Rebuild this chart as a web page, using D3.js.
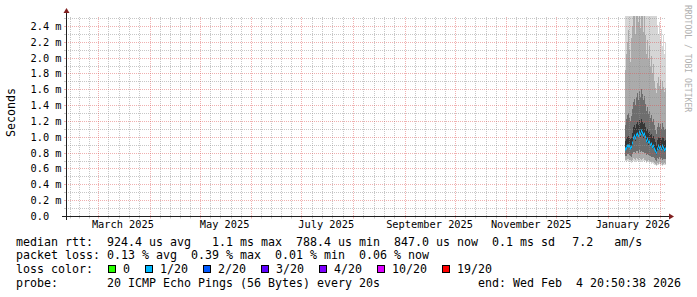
<!DOCTYPE html>
<html>
<head>
<meta charset="utf-8">
<script src="https://cdn.jsdelivr.net/npm/d3@7"></script>
<style>
html, body { margin: 0; padding: 0; background: #fff; }
svg { display: block; }
text { font-family: "DejaVu Sans Mono", monospace; fill: #000; white-space: pre; }
</style>
</head>
<body>
<svg id="chart" width="697" height="297"></svg>
<script>
// smokeping style graph, last 360 days

var endTime = new Date(Date.UTC(2026, 1, 4, 20, 50, 38));
var spanDays = 360;
var stepHours = 14.4;      // one consolidated row per pixel
var yTop = 2.526;          // ms at top of plot

// ping times in ms, one value per column (oldest first)
var pingMin = [0.69,0.68,0.70,0.69,0.68,0.69,0.67,0.68,0.70,0.69, 0.68,0.70,0.69,0.68,0.70,0.69,0.68,0.69,0.70,0.68,
  0.69,0.67,0.68,0.69,0.67,0.68,0.66,0.67,0.66,0.65, 0.64,0.63,0.65,0.64,0.66,0.64,0.65,0.63,0.64,0.65,0.64];
var ping3 = [0.71,0.71,0.72,0.72,0.71,0.71,0.70,0.71,0.73,0.72, 0.71,0.73,0.72,0.71,0.73,0.72,0.71,0.72,0.73,0.71,
  0.71,0.70,0.70,0.71,0.69,0.70,0.68,0.69,0.68,0.67, 0.66,0.65,0.67,0.66,0.68,0.66,0.67,0.65,0.66,0.67,0.66];
var ping6 = [0.76,0.76,0.78,0.78,0.77,0.76,0.75,0.78,0.81,0.81, 0.79,0.82,0.82,0.80,0.83,0.81,0.82,0.81,0.81,0.80,
  0.79,0.77,0.78,0.77,0.76,0.76,0.75,0.75,0.74,0.73, 0.71,0.70,0.73,0.72,0.74,0.72,0.73,0.71,0.72,0.72,0.72];
var ping8 = [0.83,0.84,0.86,0.87,0.86,0.84,0.85,0.89,0.96,0.98, 0.95,0.99,1.01,0.98,1.03,1.00,1.04,1.02,0.99,1.01,
  0.97,0.92,0.94,0.90,0.91,0.87,0.88,0.85,0.86,0.83, 0.80,0.77,0.82,0.85,0.83,0.84,0.82,0.85,0.83,0.81,0.82];
var medianMs = [0.85,0.86,0.88,0.89,0.88,0.86,0.87,0.92,0.99,1.01, 0.98,1.02,1.04,1.01,1.06,1.03,1.07,1.05,1.02,1.04,
  1.00,0.95,0.97,0.93,0.94,0.90,0.91,0.87,0.88,0.85, 0.82,0.79,0.84,0.88,0.86,0.87,0.85,0.88,0.86,0.83,0.84];
var ping13 = [0.95,0.97,1.00,1.01,0.99,0.97,0.99,1.05,1.12,1.15, 1.11,1.16,1.19,1.15,1.21,1.17,1.22,1.19,1.16,1.18,
  1.13,1.07,1.10,1.05,1.07,1.02,1.04,0.99,1.01,0.97, 0.93,0.90,0.96,1.00,0.98,0.99,0.96,1.00,0.98,0.95,0.96];
var ping15 = [1.15,1.22,1.28,1.30,1.24,1.20,1.26,1.35,1.44,1.48, 1.40,1.50,1.55,1.47,1.58,1.50,1.60,1.54,1.46,1.52,
  1.42,1.33,1.38,1.29,1.33,1.24,1.28,1.19,1.22,1.15, 1.08,1.04,1.12,1.18,1.13,1.16,1.10,1.17,1.12,1.08,1.10];
var ping18 = [1.85,2.05,2.20,2.35,2.10,1.95,2.25,2.40,2.55,2.62, 2.30,2.58,2.70,2.45,2.66,2.38,2.75,2.52,2.33,2.60,
  2.28,2.05,2.22,1.98,2.15,1.88,2.02,1.80,1.92,1.70, 1.62,1.55,1.68,1.75,1.64,1.72,1.60,1.70,1.63,1.57,1.62];
var pingMax = [2.80,3.10,2.95,3.30,2.85,2.70,3.05,3.40,3.60,3.20, 2.90,3.50,3.70,3.15,3.45,2.95,3.80,3.25,2.90,3.35,
  3.00,2.75,3.10,2.85,2.95,2.70,2.88,2.65,2.90,2.70, 3.00,2.60,2.41,2.30,2.45,2.22,2.36,2.15,2.28,2.05,2.20];
// packet loss in percent per column
var lossPct = [0.10,0.15,0.08,0.20,0.12,0.05,0.10,0.18,0.25,0.30, 0.15,0.22,0.39,0.12,0.18,0.10,0.26,0.14,0.08,0.20,
  0.12,0.10,0.15,0.08,0.12,0.01,0.10,0.14,0.09,0.11, 0.07,0.13,0.10,0.08,0.12,0.05,0.09,0.11,0.07,0.10,0.06];

var lossLabels = ["0", "1/20", "2/20", "3/20", "4/20", "10/20", "19/20"];
var lossColors = ["#26ff00", "#00b8ff", "#0059ff", "#5e00ff", "#7e00ff", "#dd00ff", "#ff0000"];
var lossLimits = [0, 5, 10, 15, 20, 50];   // percent, upper bound of each bucket

var legendRtt = "median rtt:  924.4 us avg   1.1 ms max  788.4 us min  847.0 us now  0.1 ms sd";
var legendAmps = "7.2   am/s";
var legendLoss = "packet loss: 0.13 % avg  0.39 % max  0.01 % min  0.06 % now";
var legendProbe = "probe:       20 ICMP Echo Pings (56 Bytes) every 20s";
var legendEnd = "end: Wed Feb  4 20:50:38 2026";

var x0 = 66, x1 = 666, y0 = 216, y1 = 16;
var DAY = 864e5, stepMs = stepHours * 3600e3;
var startTime = new Date(+endTime - spanDays * DAY);

var gridCol = "rgba(143,143,143,0.5)";
var mgridCol = "rgba(222,79,79,0.45)";
var arrowCol = "#801f1f";
var axisCol = "#1f1f1f";

var x = d3.scaleUtc().domain([startTime, endTime]).range([x0, x1]);
var y = d3.scaleLinear().domain([0, yTop]).range([y0, y1]).clamp(true);
var lossColor = d3.scaleThreshold().domain(lossLimits.map(function(v) { return v + 1e-9; })).range(lossColors);

var svg = d3.select("#chart");
svg.append("rect").attr("width", 697).attr("height", 297).attr("fill", "#fff");

var nCol = medianMs.length;
var cols = medianMs.map(function(m, i) {
  var t0 = new Date(+endTime - (nCol - i) * stepMs);
  return { i: i, t0: t0, t1: new Date(+t0 + stepMs) };
});

// smoke
var layers = [
  { lo: pingMin, hi: pingMax, c: "#d6d6d6" },
  { lo: ping3, hi: ping18, c: "#ababab" },
  { lo: ping6, hi: ping15, c: "#6e6e6e" },
  { lo: ping8, hi: ping13, c: "#363636" }
];
layers.forEach(function(l) {
  svg.append("g").selectAll("rect")
    .data(cols)
    .enter()
    .append("rect")
    .attr("x", function(d) { return x(d.t0); })
    .attr("width", function(d) { return x(d.t1) - x(d.t0); })
    .attr("y", function(d) { return y(l.hi[d.i]); })
    .attr("height", function(d) { return y(l.lo[d.i]) - y(l.hi[d.i]); })
    .attr("fill", l.c)
    .attr("shape-rendering", "crispEdges");
});

// median marks coloured by loss
svg.append("g").selectAll("rect")
  .data(cols)
  .enter()
  .append("rect")
  .attr("x", function(d) { return x(d.t0); })
  .attr("width", function(d) { return x(d.t1) - x(d.t0); })
  .attr("y", function(d) { return Math.round(y(medianMs[d.i])) - 1.5; })
  .attr("height", 3)
  .attr("fill", function(d) { return lossColor(lossPct[d.i]); });

// grid
var grid = svg.append("g");
var yMinor = d3.range(1, 26, 2).map(function(k) { return k / 10; });
var yMajor = d3.range(2, 25, 2).map(function(k) { return k / 10; });

grid.selectAll(".hmin").data(yMinor).enter().append("line")
  .attr("x1", x0).attr("x2", x1)
  .attr("y1", function(d) { return Math.round(y(d)) + 0.5; })
  .attr("y2", function(d) { return Math.round(y(d)) + 0.5; })
  .attr("stroke", gridCol).attr("stroke-dasharray", "1,1");

var monthStarts = d3.utcMonth.range(d3.utcMonth.floor(startTime), endTime);
var xMajor = monthStarts.filter(function(d) { return d > startTime; });
var xMinor = [];
monthStarts.forEach(function(m) {
  var next = d3.utcMonth.offset(m, 1);
  for (var k = 1; k < 5; k++) {
    var t = new Date(+m + k * (next - m) / 5);
    if (t > startTime && t < endTime) xMinor.push(t);
  }
});

grid.selectAll(".vmin").data(xMinor).enter().append("line")
  .attr("y1", y0).attr("y2", y1)
  .attr("x1", function(d) { return Math.round(x(d)) + 0.5; })
  .attr("x2", function(d) { return Math.round(x(d)) + 0.5; })
  .attr("stroke", gridCol).attr("stroke-dasharray", "1,1");

grid.selectAll(".hmaj").data(yMajor).enter().append("line")
  .attr("x1", x0).attr("x2", x1)
  .attr("y1", function(d) { return Math.round(y(d)) + 0.5; })
  .attr("y2", function(d) { return Math.round(y(d)) + 0.5; })
  .attr("stroke", mgridCol).attr("stroke-dasharray", "1,1");

grid.selectAll(".vmaj").data(xMajor).enter().append("line")
  .attr("y1", y0).attr("y2", y1)
  .attr("x1", function(d) { return Math.round(x(d)) + 0.5; })
  .attr("x2", function(d) { return Math.round(x(d)) + 0.5; })
  .attr("stroke", mgridCol).attr("stroke-dasharray", "1,1");

// axis ticks
grid.selectAll(".ytk").data(yMinor.concat(yMajor)).enter().append("line")
  .attr("x1", x0 - 2).attr("x2", x0)
  .attr("y1", function(d) { return Math.round(y(d)) + 0.5; })
  .attr("y2", function(d) { return Math.round(y(d)) + 0.5; })
  .attr("stroke", function(d, i) { return i < yMinor.length ? gridCol : mgridCol; });
grid.selectAll(".xtk").data(xMinor.concat(xMajor)).enter().append("line")
  .attr("y1", y0 + 0.5).attr("y2", y0 + 2.5)
  .attr("x1", function(d) { return Math.round(x(d)) + 0.5; })
  .attr("x2", function(d) { return Math.round(x(d)) + 0.5; })
  .attr("stroke", function(d, i) { return i < xMinor.length ? gridCol : mgridCol; });

// axes + arrows
svg.append("line").attr("x1", x0 - 4).attr("x2", x1 + 4)
  .attr("y1", y0 + 0.5).attr("y2", y0 + 0.5).attr("stroke", axisCol);
svg.append("line").attr("x1", x0 + 0.5).attr("x2", x0 + 0.5)
  .attr("y1", y0 + 4).attr("y2", y1 - 4).attr("stroke", axisCol);
svg.append("path")
  .attr("d", "M" + (x1 + 8) + "," + (y0 + 0.5) + "L" + (x1 + 3) + "," + (y0 - 2.5) + "L" + (x1 + 3) + "," + (y0 + 3.5) + "Z")
  .attr("fill", arrowCol);
svg.append("path")
  .attr("d", "M" + (x0 + 0.5) + "," + (y1 - 8) + "L" + (x0 - 2.5) + "," + (y1 - 3) + "L" + (x0 + 3.5) + "," + (y1 - 3) + "Z")
  .attr("fill", arrowCol);

// y labels
var yLabels = [0].concat(yMajor);
svg.append("g").selectAll("text")
  .data(yLabels)
  .enter()
  .append("text")
  .attr("x", 30.5)
  .attr("y", function(d) { return Math.round(y(d)) + 4; })
  .attr("font-size", "10.3px")
  .text(function(d) { return d === 0 ? "0.0" : d3.format(".1f")(d) + " m"; });

// x labels, centred half a month after the month start
var xLabels = d3.utcMonth.every(2).range(d3.utcMonth.floor(startTime), endTime)
  .filter(function(d) { return d > startTime; });
svg.append("g").selectAll("text")
  .data(xLabels)
  .enter()
  .append("text")
  .attr("x", function(d) { return x(new Date(+d + 15 * DAY)); })
  .attr("y", 228)
  .attr("text-anchor", "middle")
  .attr("font-size", "10.3px")
  .text(d3.utcFormat("%B %Y"));

// vertical title + watermark
svg.append("text")
  .attr("transform", "translate(15,112.5) rotate(-90)")
  .attr("text-anchor", "middle")
  .attr("font-size", "11.63px")
  .text("Seconds");
svg.append("text")
  .attr("transform", "translate(684.5,5) rotate(90)")
  .attr("font-size", "8.1px")
  .style("fill", "#b0b0b0")
  .text("RRDTOOL / TOBI OETIKER");

// legend
var cw = 7, lx = 16;
function legendLine(str, px, py) {
  svg.append("text").attr("x", px).attr("y", py)
    .attr("font-size", "11.63px")
    .attr("xml:space", "preserve")
    .text(str);
}
legendLine(legendRtt, lx, 245.5);
legendLine(legendAmps, 572.3, 245.5);
legendLine(legendLoss, lx, 259.2);
legendLine("loss color:", lx, 272.9);
legendLine(legendProbe, lx, 286.6);
legendLine(legendEnd, lx + 66 * cw, 286.6);

var bx = lx + 13 * cw + 1;
lossLabels.forEach(function(lab, i) {
  svg.append("rect")
    .attr("x", bx + 0.5).attr("y", 265.5)
    .attr("width", 7).attr("height", 7)
    .attr("fill", lossColors[i]).attr("stroke", "#000");
  legendLine(lab, bx + 15, 272.9);
  bx = bx + 15 + lab.length * cw + 15;
});
</script>
</body>
</html>
